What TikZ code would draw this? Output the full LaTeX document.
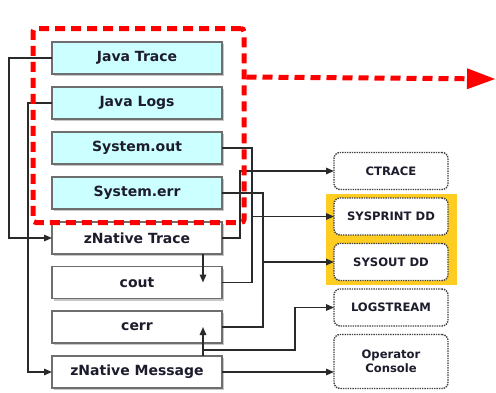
\documentclass[tikz,border=0pt]{standalone}
\usepackage{fontspec}
\setmainfont{DejaVu Sans}
\usepackage{tikz}
\usetikzlibrary{arrows.meta, positioning, fit, backgrounds, shadows}

\definecolor{javacyan}{HTML}{CCFFFF}
\definecolor{boxgray}{HTML}{6E6E6E}
\definecolor{ddgold}{HTML}{FFCC22}
\definecolor{wire}{HTML}{2A2A2A}
\definecolor{labelink}{HTML}{1C1C2C}

\begin{document}
\begin{tikzpicture}[
  x=1pt, y=-1pt,
  srcbox/.style={draw=boxgray, line width=1.3pt, outer sep=0pt, minimum width=170pt, minimum height=32pt,
                 fill=white, font=\fontsize{14}{16}\selectfont\bfseries, text=labelink,
                 drop shadow={shadow xshift=2pt, shadow yshift=-2pt, fill=black!22, opacity=1}},
  javabox/.style={srcbox, fill=javacyan},
  dstbox/.style={draw=black!75, line width=1.4pt, densely dotted, rounded corners=6pt, outer sep=0pt,
                 minimum width=114pt, minimum height=37pt, fill=white, align=center,
                 font=\fontsize{11.6}{14}\selectfont\bfseries, text=labelink},
  arr/.style={-{Triangle[length=8pt,width=6.5pt]}, line width=1.5pt, wire},
  wireline/.style={line width=1.5pt, wire},
  node distance=13pt
]
  \useasboundingbox (0,0) rectangle (496,392);

  % Java side
  \node[javabox] (jtrace) at (137,58) {Java Trace};
  \node[javabox, below=of jtrace] (jlogs) {Java Logs};
  \node[javabox, below=of jlogs]  (sout)  {System.out};
  \node[javabox, below=of sout]   (serr)  {System.err};

  % native side
  \node[srcbox, below=of serr]   (ztrace) {zNative Trace};
  \node[srcbox, below=12.5pt of ztrace] (cout) {cout};
  \node[srcbox, below=12.5pt of cout]   (cerr) {cerr};
  \node[srcbox, below=13pt of cerr]     (zmsg) {zNative Message};

  % destinations
  \node[dstbox] (ctrace) at (391,171) {CTRACE};
  \node[dstbox, below=8.5pt of ctrace]   (sysprint) {SYSPRINT DD};
  \node[dstbox, below=8.5pt of sysprint] (sysout)   {SYSOUT DD};
  \node[dstbox, below=8.5pt of sysout]   (logstr)   {LOGSTREAM};
  \node[dstbox, below=8.5pt of logstr, minimum height=54pt] (opcon) {Operator\\Console};

  % highlighted DD group
  \begin{scope}[on background layer]
    \node[fit=(sysprint)(sysout), fill=ddgold, inner xsep=8.5pt, inner ysep=4.5pt] (ddgrp) {};
  \end{scope}

  % Java Trace / Java Logs into native boxes
  \draw[arr] (jtrace.west) -- ++(-43,0) |- (ztrace.west);
  \draw[arr] (jlogs.west) -- ++(-24,0) |- (zmsg.west);

  % System.out -> cout, SYSPRINT
  \draw[wireline] (sout.east) -- ++(30,0) coordinate (soutbus) |- (cout.east);
  \draw[arr] (soutbus |- sysprint) -- (sysprint.west);

  % System.err -> cerr, SYSOUT
  \draw[wireline] (serr.east) -- ++(41,0) coordinate (serrbus) |- (cerr.east);
  \draw[arr] (serrbus |- sysout) -- (sysout.west);

  % zNative Trace -> CTRACE, cout
  \draw[arr] (ztrace.east) -- ++(18,0) |- (ctrace.west);
  \draw[arr] ([xshift=66pt]ztrace.south) -- ([xshift=66pt]cout.center);

  % zNative Message -> cerr, LOGSTREAM, console
  \draw[arr] ([xshift=66pt]zmsg.north) -- ([xshift=66pt]cerr.center);
  \draw[arr] ([xshift=66pt, yshift=6pt]zmsg.north) -- ++(92,0) |- (logstr.west);
  \draw[arr] (zmsg.east) -- (zmsg.east -| opcon.west);

  % red highlight of the Java part
  \node[fit=(jtrace)(serr), draw=red, line width=5pt, dash pattern=on 10pt off 6pt,
        rounded corners=3pt, inner xsep=20.5pt, inner ysep=13.5pt, xshift=1.5pt] (javagrp) {};
  \coordinate (redend) at (495,79);
  \draw[red, line width=5pt, dash pattern=on 10pt off 6pt,
        -{Triangle[length=28pt,width=21pt,line width=0pt]}]
    ([yshift=-51pt]javagrp.north east) -- (redend);
\end{tikzpicture}
\end{document}
